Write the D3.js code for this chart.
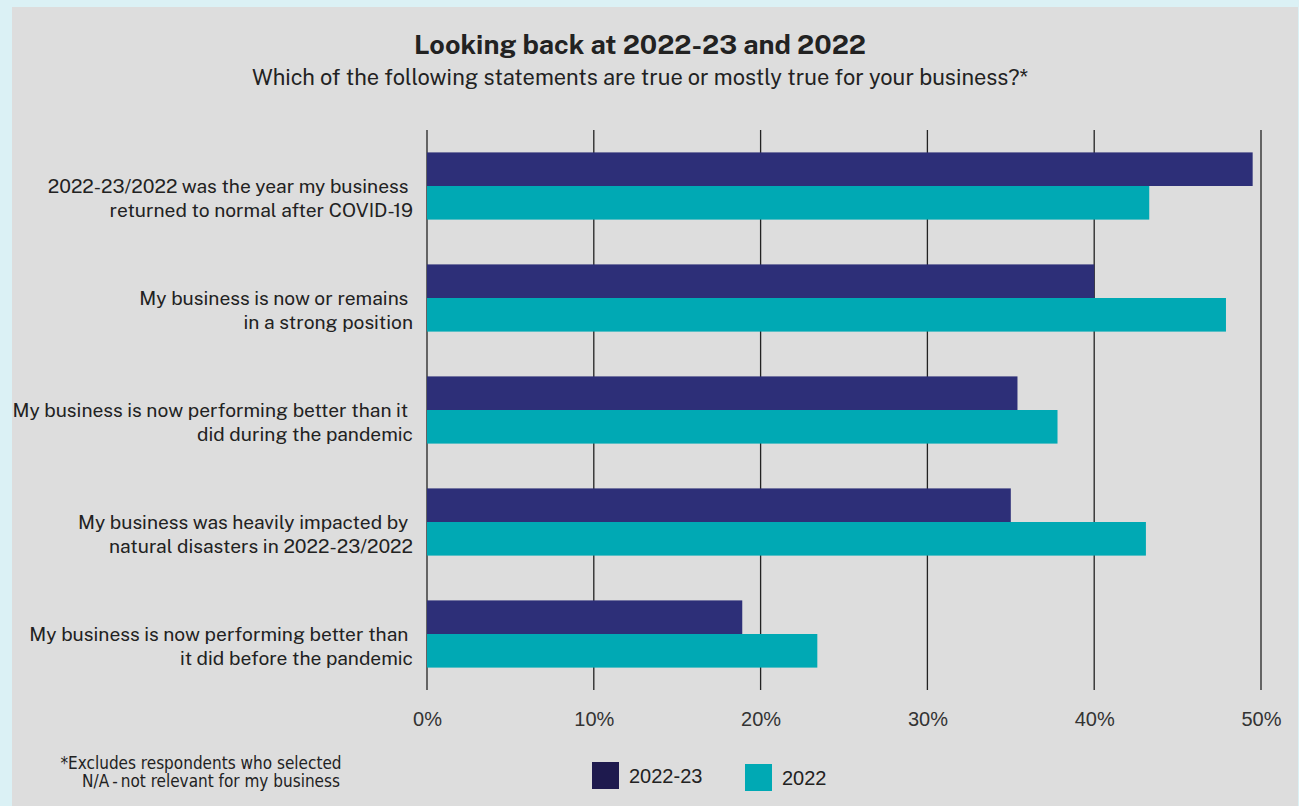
<!DOCTYPE html>
<html>
<head>
<meta charset="utf-8">
<script src="https://cdn.jsdelivr.net/npm/d3@7"></script>
<style>
  body { margin: 0; background: #dbf1f5; }
  svg { display: block; }
</style>
</head>
<body>
<div id="chart-area"></div>
<script>
// Data
let categories = [
    ["2022-23/2022 was the year my business\u00a0", "returned to normal after COVID-19"],
    ["My business is now or remains\u00a0", "in a strong position"],
    ["My business is now performing better than it\u00a0", "did during the pandemic"],
    ["My business was heavily impacted by\u00a0", "natural disasters in 2022-23/2022"],
    ["My business is now performing better than\u00a0", "it did before the pandemic"]
];
let seriesNames = ["2022-23", "2022"];
let values2223 = [49.5, 40.0, 35.4, 35.0, 18.9];
let values2022 = [43.3, 47.9, 37.8, 43.1, 23.4];
let xTicks = [0, 10, 20, 30, 40, 50];

let W = 1299, H = 806;
let margin = { left: 427, right: 38, top: 130, bottom: 116 };

let svg = d3.select("#chart-area")
    .append("svg")
    .attr("width", W)
    .attr("height", H);

// Panel
svg.append("rect")
    .attr("x", 12).attr("y", 7)
    .attr("width", 1286).attr("height", H - 7)
    .attr("fill", "#dddddd");

let sansFont = "'Public Sans', Inter, 'Open Sans', sans-serif";

// Title
svg.append("text")
    .attr("x", 640).attr("y", 54)
    .attr("text-anchor", "middle")
    .attr("font-family", sansFont)
    .attr("font-weight", "bold")
    .attr("font-size", "27px")
    .attr("fill", "#222")
    .text("Looking back at 2022-23 and 2022");

svg.append("text")
    .attr("x", 640).attr("y", 85)
    .attr("text-anchor", "middle")
    .attr("font-family", sansFont)
    .attr("font-size", "21.8px")
    .attr("fill", "#222")
    .text("Which of the following statements are true or mostly true for your business?*");

let g = svg.append("g")
    .attr("transform", "translate(" + margin.left + ", " + margin.top + ")");

// X Scale
let x = d3.scaleLinear()
    .domain([0, 50])
    .range([0, 834]);

// Y Scale
let y = d3.scaleBand()
    .domain(d3.range(categories.length))
    .range([0, 560])
    .paddingInner(0.4)
    .paddingOuter(0.2);

let sub = d3.scaleBand()
    .domain(seriesNames)
    .range([0, y.bandwidth()]);

let colors = { "2022-23": "#2d2f78", "2022": "#00a9b4" };

// Gridlines
g.selectAll(".grid")
    .data(xTicks)
    .enter()
    .append("line")
    .attr("class", "grid")
    .attr("x1", d => x(d)).attr("x2", d => x(d))
    .attr("y1", 0).attr("y2", 560)
    .attr("stroke", "#222")
    .attr("stroke-width", 1.3);

// X Axis
let xAxisCall = d3.axisBottom(x)
    .tickValues(xTicks)
    .tickSize(0)
    .tickPadding(22)
    .tickFormat(d => d + "%");
let xAxis = g.append("g")
    .attr("class", "x axis")
    .attr("transform", "translate(0," + 560 + ")")
    .call(xAxisCall);
xAxis.select(".domain").remove();
xAxis.selectAll("text")
    .attr("font-family", "'Liberation Sans', Arial, sans-serif")
    .attr("font-size", "20px")
    .attr("fill", "#333");

// Bars
let rows = categories.map((c, i) => ({ i: i, vals: [values2223[i], values2022[i]] }));
let groups = g.selectAll(".row")
    .data(rows)
    .enter()
    .append("g")
    .attr("class", "row")
    .attr("transform", d => "translate(0," + y(d.i) + ")");

groups.selectAll("rect")
    .data(d => d.vals.map((v, k) => ({ key: seriesNames[k], v: v })))
    .enter()
    .append("rect")
    .attr("x", 0)
    .attr("y", d => sub(d.key))
    .attr("width", d => x(d.v))
    .attr("height", sub.bandwidth())
    .attr("fill", d => colors[d.key]);

// Category labels
let labels = g.selectAll(".cat")
    .data(categories)
    .enter()
    .append("text")
    .attr("class", "cat")
    .attr("text-anchor", "end")
    .attr("font-family", sansFont)
    .attr("font-size", "19.2px")
    .attr("fill", "#222")
    .attr("transform", (d, i) => "translate(-14," + (y(i) + y.bandwidth() / 2) + ")");
labels.append("tspan").attr("x", 0).attr("y", 7).text(d => d[0]);
labels.append("tspan").attr("x", 0).attr("y", 30.5).text(d => d[1]);

// Footnote
let foot = svg.append("text")
    .attr("text-anchor", "middle")
    .attr("font-family", "'Liberation Sans Narrow', 'Arial Narrow', 'DejaVu Sans Condensed', sans-serif")
    .attr("font-size", "17px")
    .attr("fill", "#222");
foot.append("tspan").attr("x", 201).attr("y", 769).text("*Excludes respondents who selected");
foot.append("tspan").attr("x", 211).attr("y", 787).text("N/A\u2009-\u2009not relevant for my business");

// Legend
let legendItems = [
    { name: "2022-23", color: "#1e1a4e", x: 592, y: 762 },
    { name: "2022", color: "#00a9b4", x: 745, y: 764 }
];
let legend = svg.selectAll(".legend")
    .data(legendItems)
    .enter()
    .append("g")
    .attr("class", "legend")
    .attr("transform", d => "translate(" + d.x + "," + d.y + ")");
legend.append("rect")
    .attr("width", 27).attr("height", 27)
    .attr("fill", d => d.color);
legend.append("text")
    .attr("x", 37).attr("y", 21)
    .attr("font-family", "'Liberation Sans', Arial, sans-serif")
    .attr("font-size", "20px")
    .attr("fill", "#222")
    .text(d => d.name);
</script>
</body>
</html>
